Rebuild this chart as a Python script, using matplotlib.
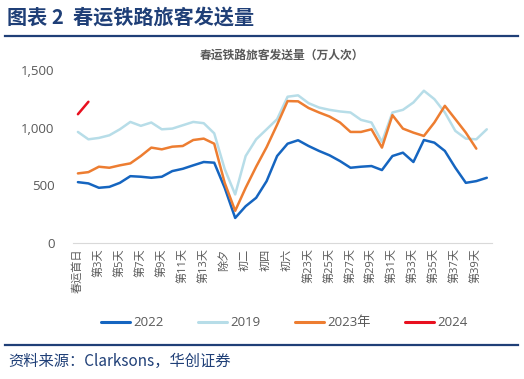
import numpy as np
import matplotlib
matplotlib.use('Agg')
import matplotlib.pyplot as plt
from matplotlib.lines import Line2D
from matplotlib.ticker import FuncFormatter

plt.rcParams['font.family'] = ['Open Sans', 'Noto Sans CJK SC', 'DejaVu Sans']

# 春运 40 days, ticks every other day
tick_labels = ['春运首日', '第3天', '第5天', '第7天', '第9天', '第11天', '第13天',
               '除夕', '初二', '初四', '初六', '第23天', '第25天', '第27天',
               '第29天', '第31天', '第33天', '第35天', '第37天', '第39天']

y2022 = [526, 515, 477, 485, 520, 578, 573, 564, 573, 622,
         642, 672, 701, 695, 477, 215, 317, 390, 535, 753,
         860, 890, 840, 797, 759, 709, 651, 660, 666, 631,
         753, 782, 701, 892, 869, 797, 651, 520, 535, 564]
y2019 = [962, 898, 910, 933, 985, 1049, 1015, 1044, 985, 991,
         1020, 1049, 1038, 950, 640, 419, 753, 898, 985, 1073,
         1268, 1280, 1212, 1174, 1154, 1140, 1131, 1067, 1044, 875,
         1131, 1154, 1218, 1320, 1247, 1131, 971, 904, 898, 985]
y2023 = [602, 613, 660, 651, 672, 689, 753, 826, 811, 834,
         840, 892, 904, 860, 520, 277, 477, 660, 830, 1025,
         1230, 1228, 1170, 1131, 1096, 1044, 962, 962, 985, 826,
         1108, 991, 956, 927, 1044, 1189, 1073, 956, 817]
y2024 = [1116, 1224]

series = [('2022', y2022, '#1565C0'),
          ('2019', y2019, '#B7DDE8'),
          ('2023年', y2023, '#ED7D31'),
          ('2024', y2024, '#E8101F')]

navy = '#1F3F77'
gray = '#595959'

fig = plt.figure(figsize=(5.24, 3.79), dpi=100)
ax = fig.add_axes([0.1387, 0.3596, 0.8003, 0.4557])

for name, vals, col in series:
    ax.plot(np.arange(len(vals)), vals, color=col, lw=1.8, label=name,
            solid_joinstyle='round', solid_capstyle='round')

ax.set_xlim(-0.5, 39.5)
ax.set_ylim(0, 1500)
ax.set_yticks([0, 500, 1000, 1500])
ax.yaxis.set_major_formatter(FuncFormatter(lambda v, p: f'{int(v):,}'))
ax.set_xticks(np.arange(0, 40, 2))
ax.set_xticklabels(tick_labels, rotation=90, fontsize=8, color=gray)
ax.tick_params(axis='y', labelsize=9.5, colors=gray, length=0, pad=13)
ax.tick_params(axis='x', length=0, pad=4)
for s in ['top', 'right', 'left']:
    ax.spines[s].set_visible(False)
ax.spines['bottom'].set_color('#D9D9D9')
ax.spines['bottom'].set_linewidth(0.8)

ax.set_title('春运铁路旅客发送量（万人次）', fontsize=8.5, fontweight='bold',
             color=gray, pad=8, family=['Noto Sans CJK SC'])

fig.legend(loc='center', bbox_to_anchor=(0.542, 0.148), ncol=4, frameon=False,
           fontsize=9.5, handlelength=2.2, handletextpad=0.25, columnspacing=2.6,
           labelcolor=gray)
for h in fig.legends[0].get_lines():
    h.set_linewidth(2.2)

# header / footer
fig.text(0.013, 0.955, '图表 2  春运铁路旅客发送量', fontsize=14.5, fontweight='bold',
         color=navy, va='center', family=['Noto Sans CJK SC'])
fig.add_artist(Line2D([0.01, 0.988], [0.905, 0.905], color=navy, lw=1.6))
fig.add_artist(Line2D([0.01, 0.988], [0.0897, 0.0897], color=navy, lw=1.6))
fig.text(0.015, 0.045, '资料来源：Clarksons，华创证券', fontsize=11, color=navy,
         va='center', family=['Noto Sans CJK SC'], style='italic')

fig.savefig('out.png', dpi=100)
